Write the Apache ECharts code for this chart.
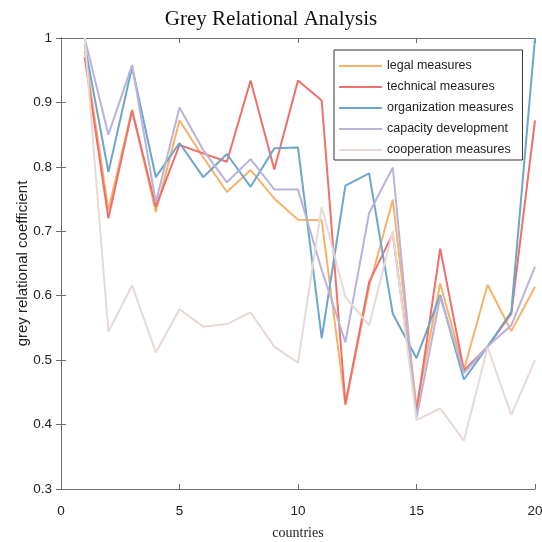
<!DOCTYPE html>
<html>
<head>
<meta charset="utf-8">
<script src="https://cdn.jsdelivr.net/npm/echarts@6/dist/echarts.min.js"></script>
<style>
  html, body { margin: 0; padding: 0; background: #fff; }
  #main { width: 542px; height: 542px; }
</style>
</head>
<body>
<div id="main"></div>
<script>
// countries 1..20
var countries = [1, 2, 3, 4, 5, 6, 7, 8, 9, 10, 11, 12, 13, 14, 15, 16, 17, 18, 19, 20];
var names = ['legal measures', 'technical measures', 'organization measures', 'capacity development', 'cooperation measures'];
var colors = ['#F6B26B', '#EF6F6C', '#6EA6C9', '#B9B3DC', '#E6DAD6'];

var legal = [0.98, 0.733, 0.889, 0.730, 0.872, 0.815, 0.761, 0.795, 0.751, 0.718, 0.717, 0.430, 0.614, 0.749, 0.428, 0.619, 0.485, 0.617, 0.545, 0.614];
var technical = [0.97, 0.720, 0.887, 0.738, 0.834, 0.821, 0.808, 0.934, 0.796, 0.934, 0.903, 0.432, 0.621, 0.696, 0.420, 0.673, 0.484, 0.521, 0.572, 0.872];
var organization = [0.99, 0.792, 0.955, 0.784, 0.837, 0.784, 0.820, 0.769, 0.829, 0.830, 0.534, 0.771, 0.790, 0.572, 0.503, 0.601, 0.470, 0.521, 0.575, 1.0];
var capacity = [1.0, 0.850, 0.958, 0.745, 0.892, 0.826, 0.776, 0.812, 0.765, 0.765, 0.640, 0.528, 0.728, 0.799, 0.410, 0.598, 0.480, 0.521, 0.554, 0.645];
var cooperation = [1.0, 0.544, 0.616, 0.512, 0.579, 0.552, 0.556, 0.574, 0.521, 0.496, 0.738, 0.598, 0.554, 0.700, 0.407, 0.425, 0.375, 0.520, 0.415, 0.500];

var allData = [legal, technical, organization, capacity, cooperation];

function pairs(vals) {
	return countries.map(function(c, i) { return [c, vals[i]]; });
}

var axisLine = { show: true, lineStyle: { color: '#6e6e6e', width: 1 } };
var tickIn = { show: true, inside: true, length: 5, lineStyle: { color: '#6e6e6e' } };

var myChart = echarts.init(document.getElementById('main'));
var option = {
	animation: false,
	backgroundColor: '#fff',
	title: {
		text: 'Grey Relational Analysis',
		left: 'center',
		top: 4,
		textStyle: { fontFamily: 'Liberation Serif', fontWeight: 'normal', fontSize: 21, color: '#111' }
	},
	legend: {
		orient: 'vertical',
		left: 334,
		top: 50,
		padding: [9, 9, 3, 5],
		itemGap: 7,
		itemWidth: 43,
		itemHeight: 2,
		icon: 'rect',
		borderColor: '#333',
		borderWidth: 1,
		backgroundColor: '#fff',
		data: names,
		textStyle: { fontFamily: 'Liberation Sans', fontSize: 12.5, lineHeight: 14, color: '#222' }
	},
	grid: { left: 61, right: 7, top: 38, bottom: 53, outerBoundsMode: 'none' },
	xAxis: [{
		type: 'value',
		min: 0, max: 20, interval: 5,
		name: 'countries',
		nameLocation: 'middle',
		nameGap: 37,
		nameMoveOverlap: false,
		nameTextStyle: { fontFamily: 'Liberation Serif', fontSize: 14, color: '#222' },
		axisLine: axisLine,
		axisTick: tickIn,
		splitLine: { show: false },
		axisLabel: { margin: 15, fontFamily: 'Liberation Sans', fontSize: 13.5, color: '#222' }
	}, {
		type: 'value', position: 'top',
		min: 0, max: 20, interval: 5,
		axisLine: axisLine,
		axisTick: tickIn,
		splitLine: { show: false },
		axisLabel: { show: false }
	}],
	yAxis: [{
		type: 'value',
		min: 0.3, max: 1, interval: 0.1,
		name: 'grey relational coefficient',
		nameLocation: 'middle',
		nameGap: 31,
		nameMoveOverlap: false,
		nameTextStyle: { fontFamily: 'Liberation Sans', fontSize: 15, color: '#222' },
		axisLine: axisLine,
		axisTick: tickIn,
		splitLine: { show: false },
		axisLabel: {
			margin: 9, fontFamily: 'Liberation Sans', fontSize: 13.5, color: '#222',
			formatter: function(v) { return String(parseFloat(v.toFixed(1))); }
		}
	}, {
		type: 'value', position: 'right',
		min: 0.3, max: 1, interval: 0.1,
		axisLine: axisLine,
		axisTick: tickIn,
		splitLine: { show: false },
		axisLabel: { show: false }
	}],
	series: names.map(function(n, i) {
		return {
			name: n,
			type: 'line',
			data: pairs(allData[i]),
			symbol: 'none',
			color: colors[i],
			lineStyle: { width: 2, color: colors[i] }
		};
	})
};
myChart.setOption(option);
</script>
</body>
</html>
